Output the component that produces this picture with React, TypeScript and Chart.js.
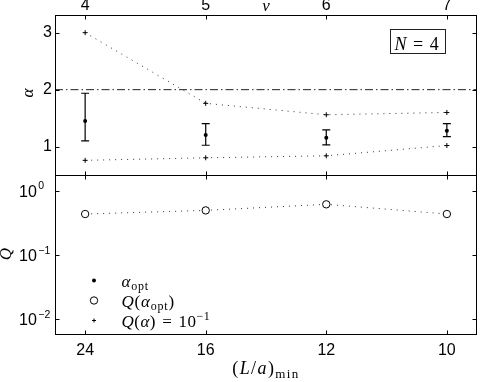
import React, { useEffect, useRef } from 'react';
import { Chart, registerables } from 'chart.js';

Chart.register(...registerables);

// ---- data ----
const nuValues = [4, 5, 6, 7];
const nuTickLabels = ['4', '5', '6', '7'];
const lMinTickLabels = ['24', '16', '12', '10'];
const alphaTicks = [1, 2, 3];
const qTicks = [0.01, 0.1, 1];
const qTickExponents = ['\u22122', '\u22121', '0'];

const alphaOpt = [1.45, 1.205, 1.158, 1.28];
const alphaErrLow = [1.1, 1.025, 1.03, 1.175];
const alphaErrHigh = [1.937, 1.404, 1.293, 1.404];
const alphaQUpper = [3.0, 1.76, 1.56, 1.6];
const alphaQLower = [0.76, 0.805, 0.84, 1.02];
const qOpt = [0.434, 0.494, 0.614, 0.434];
const alphaReference = 2;

const nuRange = [3.75, 7.25];
const alphaRange = [0.503, 3.31];
const qRange = [0.0057, 1.755];

const SANS = '"Liberation Sans", Arial, Helvetica, sans-serif';
const SERIF = '"Liberation Serif", "Times New Roman", serif';

type Run = { t: string; it?: boolean; sz?: number; dy?: number };

function drawRuns(
  ctx: CanvasRenderingContext2D,
  runs: Run[],
  x: number,
  y: number,
  align: 'left' | 'center',
  base = 16,
  ls = 0
) {
  const c: any = ctx;
  const prevLs = c.letterSpacing;
  c.letterSpacing = `${ls}px`;
  const fontOf = (r: Run) => `${r.it ? 'italic ' : ''}${r.sz ?? base}px ${SERIF}`;
  let total = 0;
  const ws = runs.map((r) => {
    ctx.font = fontOf(r);
    const w = ctx.measureText(r.t).width;
    total += w;
    return w;
  });
  let cx = align === 'center' ? x - total / 2 : x;
  ctx.textAlign = 'left';
  ctx.textBaseline = 'alphabetic';
  runs.forEach((r, i) => {
    ctx.font = fontOf(r);
    ctx.fillText(r.t, cx, y + (r.dy ?? 0));
    cx += ws[i];
  });
  c.letterSpacing = prevLs ?? '0px';
}

const pts = (ys: number[]) => nuValues.map((x, i) => ({ x, y: ys[i] }));

const decorPlugin = {
  id: 'decor',
  afterDatasetsDraw(chart: any) {
    const { ctx } = chart;
    const x = chart.scales.x;
    const yT = chart.scales.yTop;
    ctx.save();
    ctx.strokeStyle = '#000';
    ctx.lineWidth = 1.2;
    nuValues.forEach((v, i) => {
      const px = x.getPixelForValue(v);
      const pLo = yT.getPixelForValue(alphaErrLow[i]);
      const pHi = yT.getPixelForValue(alphaErrHigh[i]);
      ctx.beginPath();
      ctx.moveTo(px, pLo);
      ctx.lineTo(px, pHi);
      ctx.moveTo(px - 4, pLo);
      ctx.lineTo(px + 4, pLo);
      ctx.moveTo(px - 4, pHi);
      ctx.lineTo(px + 4, pHi);
      ctx.stroke();
    });
    ctx.restore();
  },
  afterDraw(chart: any) {
    const { ctx } = chart;
    const x = chart.scales.x;
    const yT = chart.scales.yTop;
    const yB = chart.scales.yBot;
    ctx.save();
    ctx.strokeStyle = '#000';
    ctx.fillStyle = '#000';
    ctx.lineWidth = 1;
    const L = Math.round(x.left) + 0.5;
    const R = Math.round(x.right) - 0.5;
    const T = Math.round(yT.top) + 0.5;
    const M = Math.round(yT.bottom) + 0.5;
    const B = Math.round(yB.bottom) - 0.5;
    ctx.strokeRect(L, T, R - L, M - T);
    ctx.strokeRect(L, M, R - L, B - M);

    const tl = 4;
    ctx.beginPath();
    nuValues.forEach((v) => {
      const px = Math.round(x.getPixelForValue(v)) + 0.5;
      ctx.moveTo(px, T); ctx.lineTo(px, T + tl);
      ctx.moveTo(px, M - tl); ctx.lineTo(px, M + tl);
      ctx.moveTo(px, B); ctx.lineTo(px, B - tl);
    });
    alphaTicks.forEach((v) => {
      const py = Math.round(yT.getPixelForValue(v)) + 0.5;
      ctx.moveTo(L, py); ctx.lineTo(L + tl, py);
      ctx.moveTo(R, py); ctx.lineTo(R - tl, py);
    });
    qTicks.forEach((v) => {
      const py = Math.round(yB.getPixelForValue(v)) + 0.5;
      ctx.moveTo(L, py); ctx.lineTo(L + tl, py);
      ctx.moveTo(R, py); ctx.lineTo(R - tl, py);
    });
    ctx.stroke();

    // log tick labels 10^k
    qTicks.forEach((v, i) => {
      const py = yB.getPixelForValue(v);
      ctx.textAlign = 'left';
      ctx.textBaseline = 'alphabetic';
      ctx.font = `16px ${SANS}`;
      const bx = 19;
      ctx.fillText('10', bx, py + 6);
      const w = ctx.measureText('10').width;
      ctx.font = `10.5px ${SANS}`;
      ctx.fillText(qTickExponents[i], bx + w + 1.5, py - 1.5);
    });

    // axis titles
    const midTop = (yT.top + yT.bottom) / 2;
    const midBot = (yB.top + yB.bottom) / 2;
    ctx.save();
    ctx.translate(33, midTop - 2);
    ctx.rotate(-Math.PI / 2);
    drawRuns(ctx, [{ t: '\u03b1', it: true, sz: 17 }], 0, 0, 'center');
    ctx.restore();
    ctx.save();
    ctx.translate(11, midBot - 1);
    ctx.rotate(-Math.PI / 2);
    drawRuns(ctx, [{ t: 'Q', it: true, sz: 17 }], 0, 0, 'center');
    ctx.restore();

    const midX = (x.left + x.right) / 2;
    drawRuns(ctx, [{ t: '\u03bd', it: true, sz: 17 }], midX, 10.5, 'center');
    drawRuns(
      ctx,
      [
        { t: '(', sz: 18 },
        { t: 'L', it: true, sz: 18 },
        { t: '/', sz: 18 },
        { t: 'a', it: true, sz: 18 },
        { t: ')', sz: 18 },
        { t: 'min', sz: 13, dy: 4 },
      ],
      midX,
      374,
      'center',
      18,
      1.4
    );

    // N = 4 box
    const bxR = x.right - 31.5;
    const bxT = Math.round(yT.top) + 14.5;
    ctx.strokeStyle = '#222';
    ctx.strokeRect(bxR - 55, bxT, 55, 24);
    drawRuns(
      ctx,
      [
        { t: 'N', it: true, sz: 18 },
        { t: '\u2004=\u2004', sz: 18 },
        { t: '4', sz: 18 },
      ],
      bxR - 51,
      bxT + 20.5,
      'left',
      18,
      0.3
    );

    // legend
    const lx = 94;
    const tx = 121.5;
    const ly = [280.5, 300.5, 320.5];
    ctx.fillStyle = '#000';
    ctx.strokeStyle = '#000';
    ctx.beginPath();
    ctx.arc(lx, ly[0], 2, 0, Math.PI * 2);
    ctx.fill();
    ctx.beginPath();
    ctx.lineWidth = 1;
    ctx.arc(lx, ly[1], 3.7, 0, Math.PI * 2);
    ctx.stroke();
    ctx.beginPath();
    ctx.moveTo(lx - 2, ly[2]); ctx.lineTo(lx + 2, ly[2]);
    ctx.moveTo(lx, ly[2] - 2); ctx.lineTo(lx, ly[2] + 2);
    ctx.stroke();
    const lsz = 17;
    const sub = 12;
    drawRuns(ctx, [{ t: '\u03b1', it: true }, { t: 'opt', sz: sub, dy: 3 }], tx, 286.5, 'left', lsz, 0.8);
    drawRuns(
      ctx,
      [
        { t: 'Q', it: true },
        { t: '(' },
        { t: '\u03b1', it: true },
        { t: 'opt', sz: sub, dy: 3 },
        { t: ')' },
      ],
      tx,
      306.5,
      'left',
      lsz,
      0.8
    );
    drawRuns(
      ctx,
      [
        { t: 'Q', it: true },
        { t: '(' },
        { t: '\u03b1', it: true },
        { t: ')' },
        { t: '\u2004=\u2004' },
        { t: '10' },
        { t: '\u22121', sz: sub, dy: -7 },
      ],
      tx,
      326.5,
      'left',
      lsz,
      0.5
    );
    ctx.restore();
  },
};

const tickFont = { family: SANS, size: 16 };

export default function App() {
  const ref = useRef<HTMLCanvasElement>(null);
  useEffect(() => {
    if (!ref.current) return;
    const chart = new Chart(ref.current, {
      type: 'line',
      data: {
        datasets: [
          {
            label: 'Q(alpha)=0.1 upper',
            data: pts(alphaQUpper),
            xAxisID: 'x',
            yAxisID: 'yTop',
            borderColor: '#333',
            borderWidth: 1,
            borderDash: [1, 5],
            pointStyle: 'cross',
            pointRadius: 2.5,
            pointBorderColor: '#000',
            pointBorderWidth: 1,
          },
          {
            label: 'Q(alpha)=0.1 lower',
            data: pts(alphaQLower),
            xAxisID: 'x',
            yAxisID: 'yTop',
            borderColor: '#333',
            borderWidth: 1,
            borderDash: [1, 5],
            pointStyle: 'cross',
            pointRadius: 2.5,
            pointBorderColor: '#000',
            pointBorderWidth: 1,
          },
          {
            label: 'alpha = 2',
            data: [
              { x: nuRange[0], y: alphaReference },
              { x: nuRange[1], y: alphaReference },
            ],
            xAxisID: 'x',
            yAxisID: 'yTop',
            borderColor: '#222',
            borderWidth: 1,
            borderDash: [8, 3, 1.5, 3],
            pointRadius: 0,
          },
          {
            label: 'alpha_opt',
            data: pts(alphaOpt),
            xAxisID: 'x',
            yAxisID: 'yTop',
            showLine: false,
            pointStyle: 'circle',
            pointRadius: 2,
            pointBackgroundColor: '#000',
            pointBorderColor: '#000',
            pointBorderWidth: 0,
          },
          {
            label: 'Q(alpha_opt)',
            data: pts(qOpt),
            xAxisID: 'x',
            yAxisID: 'yBot',
            borderColor: '#333',
            borderWidth: 1,
            borderDash: [1, 5],
            pointStyle: 'circle',
            pointRadius: 3.7,
            pointBackgroundColor: '#fff',
            pointBorderColor: '#000',
            pointBorderWidth: 1,
          },
        ],
      },
      options: {
        responsive: false,
        animation: false,
        events: [],
        layout: { padding: { left: 0, right: 2, top: 0, bottom: 0 } },
        plugins: { legend: { display: false }, tooltip: { enabled: false } },
        scales: {
          x: {
            type: 'linear',
            position: 'bottom',
            min: nuRange[0],
            max: nuRange[1],
            grid: { display: false, drawTicks: false },
            border: { display: false },
            afterBuildTicks: (s: any) => {
              s.ticks = nuValues.map((v) => ({ value: v }));
            },
            afterFit: (s: any) => {
              s.height = 47;
            },
            ticks: {
              font: tickFont,
              color: '#000',
              padding: 6,
              maxRotation: 0,
              autoSkip: false,
              callback: (v: any) => lMinTickLabels[nuValues.indexOf(Number(v))] ?? '',
            },
          },
          x2: {
            type: 'linear',
            position: 'top',
            min: nuRange[0],
            max: nuRange[1],
            grid: { display: false, drawTicks: false },
            border: { display: false },
            afterBuildTicks: (s: any) => {
              s.ticks = nuValues.map((v) => ({ value: v }));
            },
            afterFit: (s: any) => {
              s.height = 15;
            },
            ticks: {
              font: tickFont,
              color: '#000',
              padding: 0,
              maxRotation: 0,
              autoSkip: false,
              callback: (v: any) => nuTickLabels[nuValues.indexOf(Number(v))] ?? '',
            },
          },
          yTop: {
            type: 'linear',
            position: 'left',
            stack: 'panels',
            stackWeight: 1,
            weight: 2,
            min: alphaRange[0],
            max: alphaRange[1],
            grid: { display: false, drawTicks: false },
            border: { display: false },
            afterBuildTicks: (s: any) => {
              s.ticks = alphaTicks.map((v) => ({ value: v }));
            },
            afterFit: (s: any) => {
              s.width = 55;
            },
            ticks: {
              font: tickFont,
              color: '#000',
              padding: 3,
              callback: (v: any) => String(v),
            },
          },
          yBot: {
            type: 'logarithmic',
            position: 'left',
            stack: 'panels',
            stackWeight: 1,
            weight: 1,
            min: qRange[0],
            max: qRange[1],
            grid: { display: false, drawTicks: false },
            border: { display: false },
            afterBuildTicks: (s: any) => {
              s.ticks = qTicks.map((v) => ({ value: v }));
            },
            afterFit: (s: any) => {
              s.width = 55;
            },
            ticks: { display: false },
          },
        },
      } as any,
      plugins: [decorPlugin],
    });
    return () => chart.destroy();
  }, []);
  return (
    <div style={{ position: 'absolute', left: 0, top: 0, width: 482, height: 382, background: '#fff' }}>
      <canvas ref={ref} width={482} height={382} style={{ display: 'block', width: 482, height: 382 }} />
    </div>
  );
}
